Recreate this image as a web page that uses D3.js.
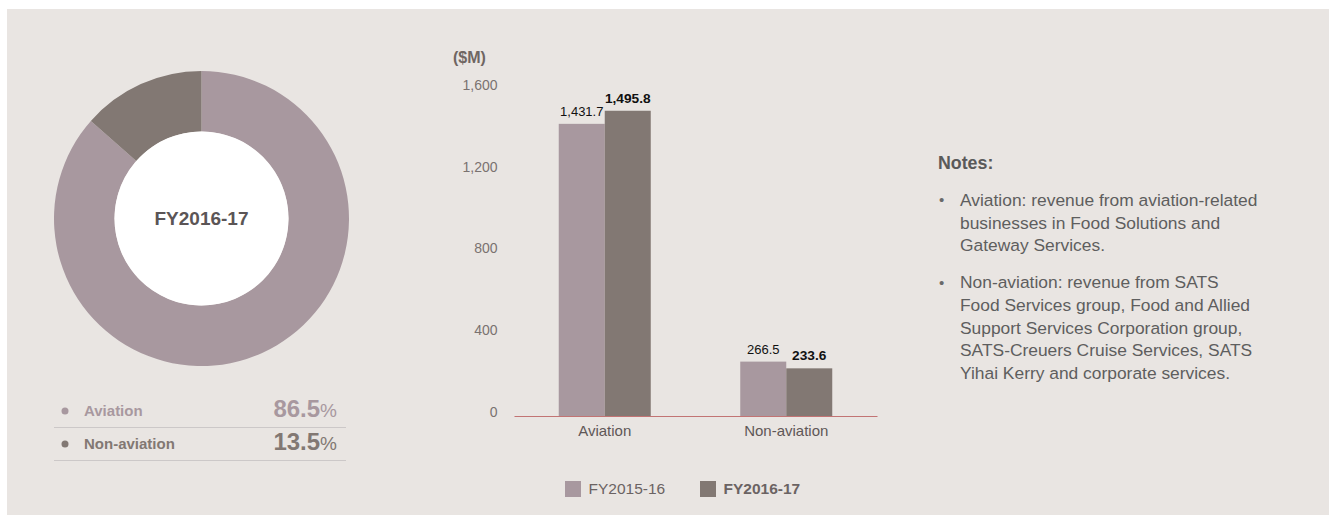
<!DOCTYPE html>
<html><head><meta charset="utf-8">
<script src="https://cdn.jsdelivr.net/npm/d3@7"></script>
<style>
html,body{margin:0;padding:0;background:#fff;}
svg{display:block;font-family:"Liberation Sans",Arial,sans-serif;}
</style></head>
<body>
<svg id="c" width="1336" height="515"></svg>
<script>
const segments = ["Aviation", "Non-aviation"];
const shareFY17 = [86.5, 13.5];
const categories = ["Aviation", "Non-aviation"];
const seriesNames = ["FY2015-16", "FY2016-17"];
const valuesFY16 = [1431.7, 266.5];
const valuesFY17 = [1495.8, 233.6];
const yTicks = [0, 400, 800, 1200, 1600];
const notes = [
  ["Aviation: revenue from aviation-related", "businesses in Food Solutions and", "Gateway Services."],
  ["Non-aviation: revenue from SATS", "Food Services group, Food and Allied", "Support Services Corporation group,", "SATS-Creuers Cruise Services, SATS", "Yihai Kerry and corporate services."]
];

const FONT = "Liberation Sans, Arial, sans-serif";
const LIGHT = "#a8989f", DARK = "#827873", BG = "#e9e5e2";
const colors = [LIGHT, DARK];
const svg = d3.select("#c");
svg.append("rect").attr("x",7).attr("y",9).attr("width",1322).attr("height",506).attr("fill",BG);

// Donut
const cx = 201.5, cy = 218.5;
const pie = d3.pie().sort(null).value(d=>d)(shareFY17);
const arc = d3.arc().innerRadius(87).outerRadius(147.5);
const dg = svg.append("g").attr("transform",`translate(${cx},${cy})`);
dg.selectAll("path").data(pie).join("path").attr("d",arc).attr("fill",(d,i)=>colors[i]);
dg.append("circle").attr("r",87).attr("fill","#fff");
dg.append("text").attr("text-anchor","middle").attr("dy","0.35em").attr("font-family",FONT)
  .attr("font-size",19).attr("font-weight","bold").attr("fill","#5b5556").text("FY2016-17");

// Donut legend
const rowY = [411, 444];
segments.forEach((s,i)=>{
  const y = rowY[i];
  svg.append("circle").attr("cx",65).attr("cy",y).attr("r",3.5).attr("fill",colors[i]);
  svg.append("text").attr("x",84).attr("y",y).attr("dy","0.35em").attr("font-size",15).attr("font-family",FONT)
    .attr("font-weight","bold").attr("fill",colors[i]).text(s);
  const t = svg.append("text").attr("x",337).attr("y",y).attr("dy","0.36em").attr("text-anchor","end")
    .attr("font-family",FONT).attr("fill",colors[i]);
  t.append("tspan").attr("font-size",24).attr("font-weight","bold").text(shareFY17[i].toFixed(1));
  t.append("tspan").attr("font-size",19).text("%");
  svg.append("line").attr("x1",54).attr("x2",346).attr("y1",y+16.5).attr("y2",y+16.5)
    .attr("stroke","#ccc8c8").attr("stroke-width",1);
});

// Bar chart
const y = d3.scaleLinear().domain([0,1600]).range([416,89.5]);
const x0 = d3.scaleBand().domain(categories).range([514,877]);
const x1 = d3.scaleBand().domain(seriesNames).range([0,92]);
const barSeries = [valuesFY16, valuesFY17];

svg.append("text").attr("x",453).attr("y",57).attr("dy","0.35em").attr("font-size",16).attr("font-family",FONT)
  .attr("font-weight","bold").attr("fill","#6f6662").text("($M)");

const yAxis = svg.append("g").attr("transform","translate(497.5,0)")
  .call(d3.axisLeft(y).tickValues(yTicks).tickSize(0).tickPadding(0).tickFormat(d3.format(",")));
yAxis.select(".domain").remove();
yAxis.selectAll("text").attr("font-size",14).attr("fill","#7a7270").attr("dy","0em")
  .attr("font-family",FONT);

categories.forEach((c,ci)=>{
  const gx = x0(c) + (x0.bandwidth()-92)/2;
  seriesNames.forEach((s,si)=>{
    const v = barSeries[si][ci];
    svg.append("rect").attr("x",gx+x1(s)).attr("y",y(v)).attr("width",x1.bandwidth())
      .attr("height",y(0)-y(v)).attr("fill",colors[si]);
    svg.append("text").attr("x",gx+x1(s)+x1.bandwidth()/2).attr("y",y(v)-8)
      .attr("text-anchor","middle").attr("font-size",si===1?13.7:13).attr("font-family",FONT)
      .attr("font-weight",si===1?"bold":"normal").attr("fill","#111")
      .text(d3.format(",.1f")(v));
  });
});

const xAxis = svg.append("g").attr("transform","translate(0,416)")
  .call(d3.axisBottom(x0).tickSize(0).tickPadding(9));
xAxis.select(".domain").attr("stroke","#c27474").attr("stroke-width",1.2);
xAxis.selectAll("text").attr("font-size",15).attr("fill","#5f5757")
  .attr("font-family",FONT);

// Bar legend
const legX = [565, 700];
seriesNames.forEach((s,i)=>{
  svg.append("rect").attr("x",legX[i]).attr("y",481).attr("width",16).attr("height",16).attr("fill",colors[i]);
  svg.append("text").attr("x",legX[i]+23.5).attr("y",489).attr("dy","0.35em").attr("font-size",15.5)
    .attr("font-family",FONT).attr("font-weight",i===1?"bold":"normal").attr("fill","#6b6363").text(s);
});

// Notes
svg.append("text").attr("x",938).attr("y",163).attr("dy","0.35em").attr("font-size",17.8).attr("font-family",FONT)
  .attr("font-weight","bold").attr("fill","#5a5a5a").text("Notes:");
let ly = 200;
notes.forEach((lines,ni)=>{
  svg.append("text").attr("x",939).attr("y",ly).attr("dy","0.35em").attr("font-size",15).attr("font-family",FONT)
    .attr("fill","#6a6a6a").text("•");
  lines.forEach((l,li)=>{
    svg.append("text").attr("x",960).attr("y",ly+li*22.6).attr("dy","0.35em").attr("font-size",17.4)
      .attr("font-family",FONT).attr("fill","#5e5e5e").text(l);
  });
  ly += lines.length*22.6 + 14.6;
});
</script>
</body></html>
